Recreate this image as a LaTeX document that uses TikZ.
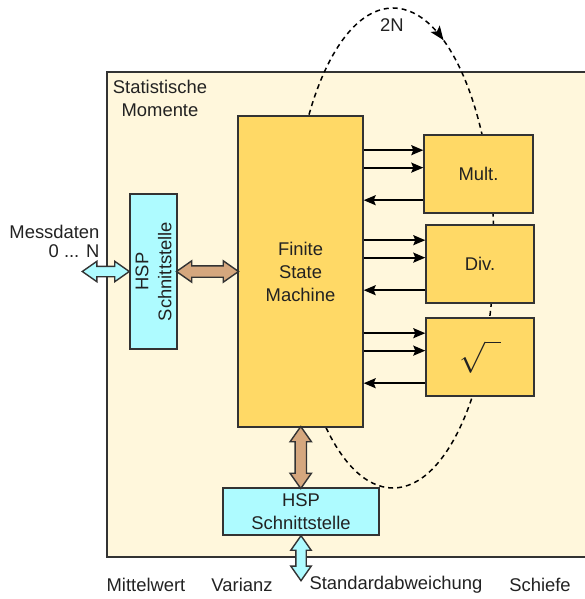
\documentclass[tikz,border=0pt]{standalone}
\usepackage{fontspec}
\setmainfont{Liberation Sans}
\usetikzlibrary{arrows.meta,calc,shapes.arrows}
\definecolor{beige}{HTML}{FFF7DC}
\definecolor{gelb}{HTML}{FFD966}
\definecolor{hellblau}{HTML}{AEFBFF}
\definecolor{braun}{HTML}{D5A77E}
\definecolor{rand}{HTML}{333333}
\definecolor{schrift}{HTML}{222222}

\begin{document}
\begin{tikzpicture}[x=1pt,y=-1pt,
  every node/.style={font=\fontsize{18.4}{23}\selectfont, text=schrift},
  block/.style={draw=rand, line width=1.4pt, fill=gelb, inner sep=0pt, align=center},
  hsp/.style={draw=rand, line width=1.4pt, fill=hellblau, inner sep=0pt, align=center},
  fat/.style={double arrow, draw=rand, line width=1.4pt, inner sep=5pt,
    double arrow tip angle=70, double arrow head extend=5pt},
  pfeil/.style={-{Stealth[length=12pt,width=10pt,inset=2pt]}, line width=1.8pt, draw=black}]
\useasboundingbox (0,0) rectangle (585,599);
\draw[rand, line width=1.6pt, fill=beige] (107,72) rectangle (600,557);
\node[align=center] (titel) at (160,98) {Statistische\\Momente};

% Schleife 2N
\draw[dash pattern=on 5pt off 4pt, line width=1.5pt] (393,248) ellipse[x radius=101, y radius=240];
\draw[-{Stealth[length=14pt,width=11pt,inset=3pt]}, line width=1.5pt] (393,248) ++(-64:101 and 240)
  arc[start angle=-64, end angle=-60, x radius=101, y radius=240];
\node (zweiN) at (392,25) {2N};

% Bloecke
\node[block, minimum width=125pt, minimum height=311pt] (fsm) at (300.5,271.5) {Finite\\State\\Machine};
\node[block, minimum width=109pt, minimum height=78pt] (mult) at (478.5,174) {Mult.};
\node[block, minimum width=108pt, minimum height=78pt] (div) at (480,264) {Div.};
\node[block, minimum width=108pt, minimum height=78pt] (wurzel) at (480,357) {\scalebox{1.8}{$\sqrt{\hphantom{a}}$}};
\node[hsp, minimum width=155pt, minimum height=47pt, rotate=90] (hspl) at (153.5,271.5) {HSP\\Schnittstelle};
\node[hsp, minimum width=156pt, minimum height=47pt] (hspb) at (301,511.5) {HSP\\Schnittstelle};

% breite Pfeile
\node[fat, fill=braun, minimum height=62pt] (fl) at ($(hspl.south)!0.5!(fsm.west |- hspl.south)$) {};
\node[fat, fill=braun, minimum height=62pt, rotate=90] (fb) at ($(fsm.south)!0.5!(hspb.north)$) {};
\node[fat, fill=hellblau, minimum height=47pt, inner sep=4.5pt] (ein) at ($(hspl.north)+(-23.5,0)$) {};
\node[fat, fill=hellblau, minimum height=45pt, inner sep=4.5pt, rotate=90] (aus) at ($(hspb.south)+(0,22.5)$) {};

% Verbindungen zu den Rechenwerken
\foreach \b in {mult,div,wurzel} {
  \coordinate (\b-1) at ($(\b.north west)!0.2!(\b.south west)$);
  \coordinate (\b-2) at ($(\b.north west)!0.42!(\b.south west)$);
  \coordinate (\b-3) at ($(\b.north west)!0.83!(\b.south west)$);
  \draw[pfeil] (fsm.east |- \b-1) -- (\b-1);
  \draw[pfeil] (fsm.east |- \b-2) -- (\b-2);
  \draw[pfeil] (\b-3) -- (fsm.east |- \b-3);
}

% Beschriftungen
\node[align=right, anchor=east] (mess) at (103,241) {Messdaten\\[-4pt]0 ... N};
\node (mw) at (146,585) {Mittelwert};
\node (var) at (242,585) {Varianz};
\node (std) at (396,585) {Standardabweichung};
\node (schiefe) at (540,585) {Schiefe};
\end{tikzpicture}
\end{document}
